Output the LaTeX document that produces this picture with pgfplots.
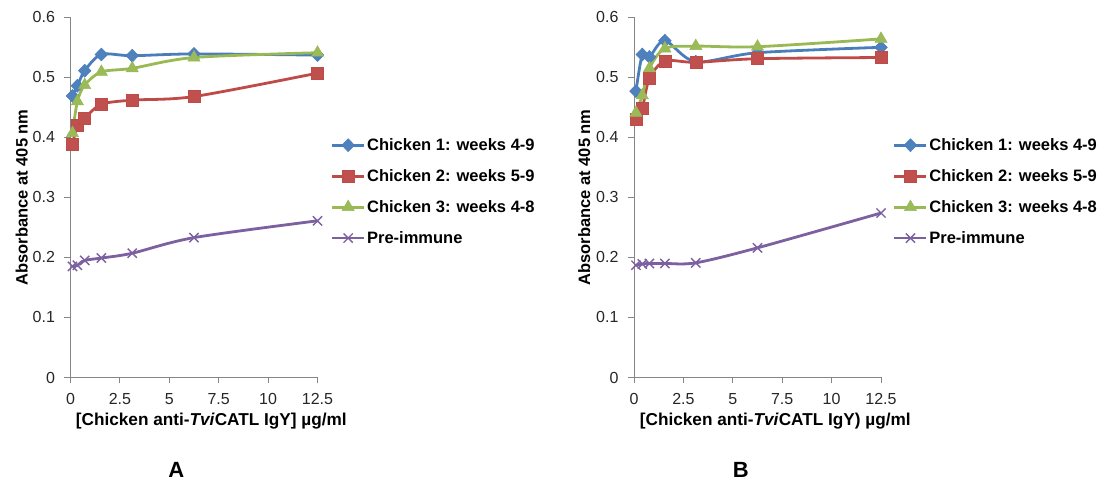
\documentclass[border=0pt]{standalone}
\usepackage{pgfplots}
\pgfplotsset{compat=1.18}
\usepackage{fontspec}
\setmainfont{Liberation Sans}

\definecolor{cblue}{HTML}{4A7EBB}
\definecolor{cbluef}{HTML}{4F81BD}
\definecolor{cred}{HTML}{BE4B48}
\definecolor{credf}{HTML}{C0504D}
\definecolor{cgreen}{HTML}{98B954}
\definecolor{cgreenf}{HTML}{9BBB59}
\definecolor{cpurple}{HTML}{7D60A0}
\definecolor{axgray}{HTML}{868686}

\pgfplotstableread{
x      c1     c2     c3     pre
0.10   0.469  0.388  0.407  0.185
0.35   0.486  0.420  0.460  0.187
0.72   0.511  0.432  0.487  0.195
1.5625 0.538  0.455  0.509  0.199
3.125  0.536  0.462  0.515  0.207
6.25   0.539  0.468  0.533  0.233
12.5   0.537  0.507  0.541  0.261
}\dataA

\pgfplotstableread{
x      c1     c2     c3     pre
0.10   0.477  0.430  0.441  0.187
0.42   0.538  0.449  0.470  0.189
0.78   0.534  0.498  0.515  0.190
1.5625 0.561  0.527  0.548  0.190
3.125  0.526  0.525  0.552  0.191
6.25   0.541  0.531  0.551  0.216
12.5   0.550  0.533  0.564  0.274
}\dataB

\pgfplotsset{
  mychart/.style={
    scale only axis,
    width=247pt, height=360.2pt,
    anchor=south west,
    xmin=0, xmax=12.5, ymin=0, ymax=0.6,
    axis lines=left,
    axis line style={-, draw=axgray, line width=0.9pt},
    tick align=outside,
    major tick length=6pt,
    tick style={draw=axgray, line width=0.9pt},
    xtick={0,2.5,5,7.5,10,12.5},
    ytick={0,0.1,0.2,0.3,0.4,0.5,0.6},
    /pgf/number format/.cd, fixed, precision=1, assume math mode=true,
    /pgfplots/.cd,
    tick label style={font=\fontsize{16}{18}\selectfont, text=black!85},
    yticklabel style={xshift=-6pt},
    xticklabel style={yshift=-6pt},
    clip=false,
    label style={font=\bfseries\fontsize{16.5}{19}\selectfont},
    ylabel={Absorbance at 405 nm},
    legend cell align=left,
    legend style={draw=none, fill=none, inner sep=0pt, anchor=west,
      font=\bfseries\fontsize{16.5}{19}\selectfont, row sep=14.5pt,
      nodes={inner sep=1.5pt}},
    legend image code/.code={\draw[mark repeat=2,mark phase=2,#1] plot coordinates {(0pt,0pt) (16pt,0pt) (32pt,0pt)};},
    every axis plot/.append style={line width=2.8pt, smooth},
  },
  s1/.style={color=cblue, mark=diamond*, mark size=6.5pt, mark options={solid, xscale=1.3, fill=cbluef, draw=cblue, line width=0.5pt}},
  s2/.style={color=cred, mark=square*, mark size=6pt, mark options={solid, fill=credf, draw=cred, line width=0.5pt}},
  s3/.style={color=cgreen, mark=triangle*, mark size=7pt, mark options={solid, fill=cgreenf, draw=cgreen, line width=0.5pt}},
  s4/.style={color=cpurple, mark=x, mark size=6.5pt, mark options={solid, draw=cpurple, line width=1.4pt}},
}

\begin{document}
\begin{tikzpicture}
\useasboundingbox (0,0) rectangle (1108pt,481pt);

\begin{axis}[mychart, at={(70.5pt,103.5pt)},
  ylabel style={at={(axis description cs:-0.197,0.5)}, anchor=center, rotate=0},
  xlabel={[Chicken anti-\textit{Tvi}CATL IgY] µg/ml},
  xlabel style={at={(axis description cs:0.57,-0.1208)}, anchor=center, font=\bfseries\fontsize{17.2}{19}\selectfont},
  legend style={at={(axis description cs:1.053,0.516)}},
]
\addplot[s1] table[x=x, y=c1] {\dataA};
\addlegendentry{Chicken 1: weeks 4-9}
\addplot[s2] table[x=x, y=c2] {\dataA};
\addlegendentry{Chicken 2: weeks 5-9}
\addplot[s3] table[x=x, y=c3] {\dataA};
\addlegendentry{Chicken 3: weeks 4-8}
\addplot[s4] table[x=x, y=pre] {\dataA};
\addlegendentry{Pre-immune}
\node[font=\bfseries\fontsize{22}{24}\selectfont] at (axis description cs:0.428,-0.257) {A};
\end{axis}

\begin{axis}[mychart, at={(634pt,103.5pt)},
  ylabel style={at={(axis description cs:-0.202,0.5)}, anchor=center, rotate=0},
  xlabel={[Chicken anti-\textit{Tvi}CATL IgY) µg/ml},
  xlabel style={at={(axis description cs:0.572,-0.1208)}, anchor=center, font=\bfseries\fontsize{17.2}{19}\selectfont},
  legend style={at={(axis description cs:1.048,0.516)}},
]
\addplot[s1] table[x=x, y=c1] {\dataB};
\addlegendentry{Chicken 1: weeks 4-9}
\addplot[s2] table[x=x, y=c2] {\dataB};
\addlegendentry{Chicken 2: weeks 5-9}
\addplot[s3] table[x=x, y=c3] {\dataB};
\addlegendentry{Chicken 3: weeks 4-8}
\addplot[s4] table[x=x, y=pre] {\dataB};
\addlegendentry{Pre-immune}
\node[font=\bfseries\fontsize{22}{24}\selectfont] at (axis description cs:0.432,-0.257) {B};
\end{axis}
\end{tikzpicture}
\end{document}
